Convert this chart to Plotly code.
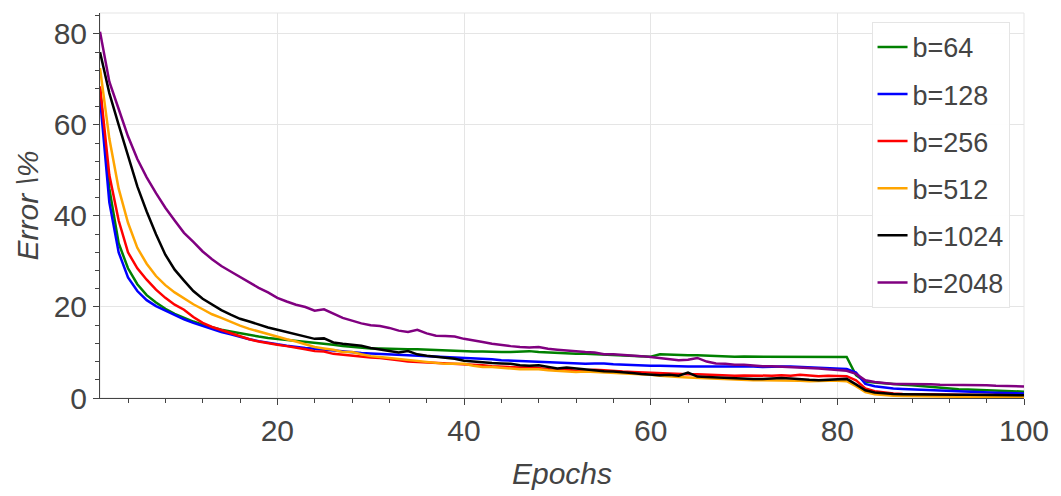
import plotly.graph_objects as go

epochs = list(range(1, 101))

b64 = [68, 46, 34, 28.5, 25, 22.6, 21.0, 19.6, 18.5, 17.6,
       16.8, 16.1, 15.5, 15.0, 14.6, 14.2, 13.9, 13.5, 13.2, 13.0,
       12.7, 12.5, 12.3, 12.1, 11.9, 11.7, 11.4, 11.2, 11.0, 10.9,
       10.9, 10.8, 10.8, 10.7, 10.7, 10.6, 10.5, 10.4, 10.4, 10.3,
       10.2, 10.2, 10.1, 10.1, 10.1, 10.2, 10.3, 10.1, 10.0, 9.8,
       9.8, 9.7, 9.7, 9.6, 9.6, 9.5, 9.4, 9.3, 9.2, 9.05,
       9.6, 9.5, 9.5, 9.4, 9.4, 9.3, 9.2, 9.1, 9.05, 9.1,
       9.1, 9.0, 9.1, 9.05, 9.0, 9.0, 9.0, 9.1, 9.05, 9.1,
       9.0, 5.0, 3.6, 3.4, 3.2, 3.1, 2.9, 2.8, 2.6, 2.4,
       2.2, 2.1, 1.95, 1.85, 1.75, 1.65, 1.6, 1.5, 1.45, 1.4]

b128 = [66, 43, 32, 26.5, 23.5, 21.5, 20.2, 19.2, 18.2, 17.3,
        16.5, 15.8, 15.1, 14.5, 14.0, 13.4, 12.9, 12.5, 12.1, 11.8,
        11.5, 11.2, 11.0, 10.8, 10.6, 10.4, 10.3, 10.1, 9.9, 9.8,
        9.7, 9.6, 9.6, 9.5, 9.4, 9.3, 9.2, 9.1, 9.0, 8.9,
        8.8, 8.6, 8.5, 8.3, 8.2, 8.1, 8.0, 7.9, 7.8, 7.8,
        7.6, 7.5, 7.5, 7.6, 7.6, 7.4, 7.3, 7.2, 7.2, 7.1,
        7.1, 7.0, 7.0, 6.9, 6.9, 6.9, 7.0, 6.9, 6.9, 6.9,
        6.9, 6.8, 6.9, 6.9, 6.9, 6.8, 6.7, 6.6, 6.6, 6.5,
        6.4, 5.6, 3.1, 2.6, 2.3, 2.1, 2.0, 1.9, 1.8, 1.7,
        1.6, 1.5, 1.45, 1.4, 1.3, 1.2, 1.15, 1.1, 1.05, 1.0]

b256 = [68.5, 49, 39, 32, 28.5, 26, 23.8, 22.0, 20.5, 19.4,
        17.8, 16.5, 15.6, 14.9, 14.2, 13.5, 12.9, 12.4, 12.0, 11.7,
        11.4, 11.1, 10.7, 10.3, 10.2, 9.7, 9.5, 9.3, 9.0, 8.9,
        8.8, 8.6, 8.3, 8.0, 7.9, 7.8, 7.7, 7.6, 7.6, 7.5,
        7.3, 7.2, 7.0, 6.9, 6.8, 6.7, 6.8, 6.6, 6.3, 6.1,
        6.2, 6.0, 6.1, 6.2, 6.1, 5.9, 5.8, 5.7, 5.6, 5.45,
        5.4, 5.4, 5.3, 5.2, 5.2, 5.1, 5.0, 4.9, 4.9, 4.95,
        4.9, 4.8, 4.9, 5.0, 4.9, 5.1, 4.9, 4.8, 4.9, 4.9,
        4.8, 3.9, 2.1, 1.5, 1.2, 1.0, 0.9, 0.85, 0.8, 0.8,
        0.75, 0.7, 0.7, 0.7, 0.65, 0.65, 0.6, 0.6, 0.6, 0.6]

b512 = [72.5, 57, 46, 38.5, 33, 29.5, 26.8, 24.8, 23.2, 21.9,
        20.6, 19.5, 18.4, 17.6, 16.7, 15.9, 15.2, 14.6, 14.0, 13.4,
        12.9, 12.4, 11.8, 11.2, 10.9, 10.6, 10.1, 10.1, 9.6, 9.2,
        9.0, 8.8, 8.6, 8.4, 8.2, 8.0, 7.8, 7.5, 7.5, 7.5,
        7.1, 6.8, 6.8, 6.6, 6.4, 6.3, 6.3, 6.3, 6.1, 6.0,
        5.9, 5.7, 5.8, 5.7, 5.7, 5.6, 5.4, 5.3, 5.2, 5.1,
        4.9, 4.7, 4.6, 4.5, 4.4, 4.4, 4.2, 4.1, 4.0, 4.0,
        3.9, 3.9, 3.9, 3.8, 3.8, 3.8, 3.7, 3.8, 3.8, 3.8,
        3.7, 2.6, 1.3, 0.8, 0.6, 0.5, 0.45, 0.4, 0.4, 0.35,
        0.35, 0.3, 0.3, 0.3, 0.3, 0.3, 0.25, 0.25, 0.25, 0.25]

b1024 = [76, 67, 60, 53, 46.5, 41, 36, 31.5, 28.2, 25.8,
         23.5, 21.8, 20.5, 19.3, 18.3, 17.4, 16.8, 16.1, 15.5, 15.0,
         14.5, 13.9, 13.4, 13.0, 13.1, 12.2, 11.9, 11.7, 11.5, 11.0,
         10.7, 10.3, 10.0, 10.3, 9.6, 9.3, 9.1, 8.9, 8.6, 8.2,
         8.0, 7.8, 7.7, 7.6, 7.5, 7.2, 7.1, 7.2, 6.9, 6.5,
         6.7, 6.5, 6.3, 6.0, 5.9, 5.8, 5.7, 5.5, 5.3, 5.2,
         5.0, 5.1, 4.9, 5.6, 4.7, 4.6, 4.5, 4.4, 4.3, 4.3,
         4.2, 4.2, 4.3, 4.4, 4.3, 4.1, 4.0, 3.9, 4.0, 4.1,
         4.2, 3.0, 1.7, 1.2, 1.0, 0.9, 0.85, 0.8, 0.8, 0.8,
         0.75, 0.75, 0.7, 0.7, 0.7, 0.65, 0.65, 0.6, 0.6, 0.6]

b2048 = [80.5, 69.5, 63.5, 57.5, 52.5, 48.5, 45.0, 41.8, 39.0, 36.3,
         34.3, 32.2, 30.5, 29.0, 27.8, 26.6, 25.3, 24.2, 23.2, 22.0,
         21.2, 20.5, 20.0, 19.2, 19.5, 18.5, 17.6, 17.0, 16.4, 16.0,
         15.8, 15.4, 14.8, 14.5, 15.0, 14.2, 13.7, 13.6, 13.5, 13.0,
         12.7, 12.3, 11.9, 11.6, 11.4, 11.2, 11.1, 11.2, 10.8, 10.6,
         10.4, 10.3, 10.1, 10.0, 9.6, 9.6, 9.5, 9.4, 9.2, 9.0,
         8.8, 8.6, 8.3, 8.4, 8.8, 8.0, 7.6, 7.5, 7.3, 7.3,
         7.1, 7.0, 7.0, 6.9, 6.9, 6.8, 6.7, 6.5, 6.3, 6.2,
         6.0, 5.3, 3.9, 3.5, 3.3, 3.1, 3.1, 3.1, 3.0, 3.0,
         2.9, 2.9, 2.8, 2.8, 2.8, 2.8, 2.7, 2.6, 2.6, 2.55]

series = [
    ("b=64", b64, "green"),
    ("b=128", b128, "blue"),
    ("b=256", b256, "red"),
    ("b=512", b512, "orange"),
    ("b=1024", b1024, "black"),
    ("b=2048", b2048, "purple"),
]

FONT = "Liberation Sans, Arial, sans-serif"
TXT = "#444444"
GRID = "#e5e5e5"

fig = go.Figure()
for i, (name, vals, color) in enumerate(series):
    fig.add_trace(go.Scatter(
        x=epochs, y=vals, mode="lines", name=name,
        line=dict(color=color, width=2.5),
        legendgroup=f"g{i}",
    ))

axis_common = dict(
    showgrid=True, gridcolor=GRID, gridwidth=1,
    showline=True, linecolor="#444444", linewidth=1,
    ticks="outside", ticklen=6, tickcolor="#444444", tickwidth=1,
    tickfont=dict(family=FONT, size=30, color=TXT),
    zeroline=False,
    minor=dict(dtick=4, ticks="outside", ticklen=4, tickcolor="#444444",
               tickwidth=1, showgrid=False),
)

fig.update_layout(
    width=1061, height=496,
    margin=dict(l=100, r=32, t=13, b=91),
    paper_bgcolor="white", plot_bgcolor="white",
    font=dict(family=FONT, color=TXT),
    xaxis=dict(
        range=[1, 100], tick0=0, dtick=20,
        title=dict(text="<i>Epochs</i>", font=dict(family=FONT, size=30, color=TXT),
                   standoff=16),
        **axis_common,
    ),
    yaxis=dict(
        range=[0, 84.6], tick0=0, dtick=20,
        title=dict(text="<i>Error \\%</i>", font=dict(family=FONT, size=30, color=TXT),
                   standoff=6),
        **axis_common,
    ),
    legend=dict(
        x=0.835, y=0.977, xanchor="left", yanchor="top",
        bgcolor="rgba(255,255,255,0.95)", bordercolor=GRID, borderwidth=1,
        font=dict(family=FONT, size=27, color=TXT),
        tracegroupgap=9,
    ),
    shapes=[dict(type="rect", xref="paper", yref="paper", x0=0, x1=1, y0=0, y1=1,
                 line=dict(color=GRID, width=1), layer="below")],
    showlegend=True,
)

fig.write_html("out.html")
